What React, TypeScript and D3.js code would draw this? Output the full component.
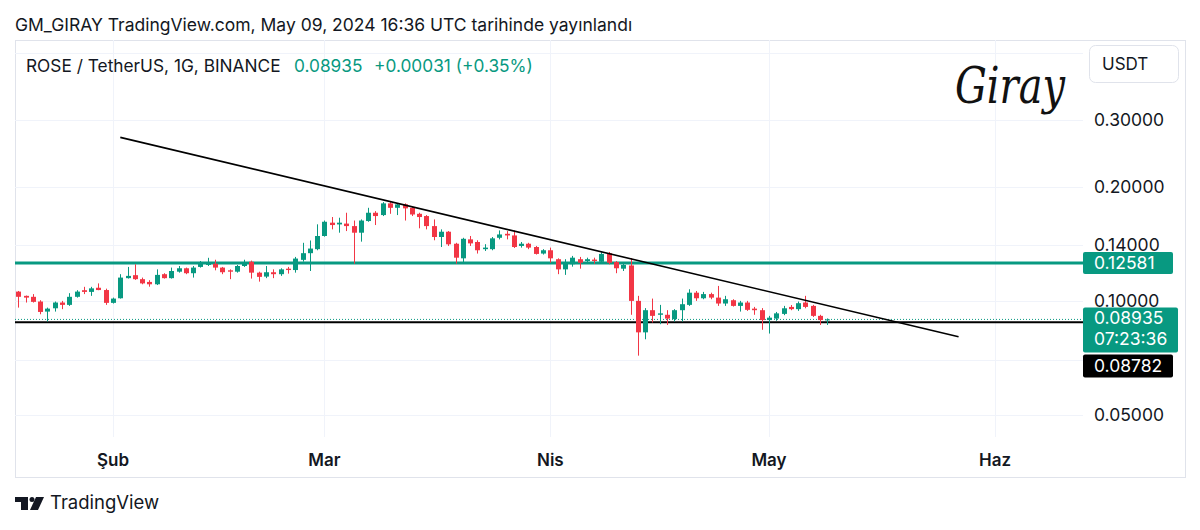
import React from "react";
import * as d3 from "d3";

// ---- data (daily candles, ROSE/USDT) ----
const startDate = "2024-01-19";
const endDate = "2024-05-09";

const opens = [
  0.1058, 0.1031, 0.1025, 0.0996, 0.0937, 0.0956, 0.0990, 0.0976, 0.1025, 0.1067, 0.1056, 0.1083, 0.1068,
  0.0988, 0.1016, 0.1148, 0.1169, 0.1141, 0.1122, 0.1106, 0.1176, 0.1148, 0.1194, 0.1219, 0.1183, 0.1229, 0.1244, 0.1253, 0.1224,
  0.1204, 0.1194, 0.1236, 0.1268, 0.1187, 0.1159, 0.1190, 0.1176, 0.1216, 0.1206, 0.1283, 0.1336, 0.1369,
  0.1483, 0.1608, 0.1591, 0.1599, 0.1575, 0.1513, 0.1624, 0.1708, 0.1684, 0.1808, 0.1760, 0.1797, 0.1760, 0.1697, 0.1674,
  0.1575, 0.1474, 0.1522, 0.1415, 0.1295, 0.1453, 0.1430, 0.1369, 0.1369, 0.1467, 0.1503, 0.1488, 0.1396, 0.1415, 0.1387, 0.1333,
  0.1360, 0.1288, 0.1211, 0.1249, 0.1288, 0.1274, 0.1285, 0.1268, 0.1336, 0.1266, 0.1216, 0.1240, 0.1000, 0.0826, 0.0945,
  0.0919, 0.0919, 0.0895, 0.0945, 0.0976, 0.1051, 0.1016, 0.1042, 0.1020, 0.0984, 0.1004, 0.0970, 0.0990, 0.0954, 0.0945,
  0.0890, 0.0898, 0.0924, 0.0964, 0.0951, 0.0990, 0.0970, 0.0913, 0.08904,
];
const highs = [
  0.1062, 0.1033, 0.1042, 0.1004, 0.0960, 0.0996, 0.1000, 0.1048, 0.1067, 0.1089, 0.1089, 0.1112, 0.1077,
  0.1020, 0.1176, 0.1229, 0.1249, 0.1152, 0.1134, 0.1211, 0.1183, 0.1224, 0.1236, 0.1224, 0.1236, 0.1274, 0.1299, 0.1284, 0.1229,
  0.1211, 0.1244, 0.1284, 0.1277, 0.1194, 0.1236, 0.1211, 0.1219, 0.1229, 0.1306, 0.1423, 0.1443, 0.1592,
  0.1629, 0.1664, 0.1657, 0.1708, 0.1629, 0.1640, 0.1760, 0.1725, 0.1822, 0.1822, 0.1808, 0.1808, 0.1771, 0.1708, 0.1684,
  0.1640, 0.1544, 0.1528, 0.1423, 0.1467, 0.1483, 0.1445, 0.1411, 0.1474, 0.1534, 0.1528, 0.1534, 0.1430, 0.1423, 0.1396, 0.1369,
  0.1382, 0.1295, 0.1288, 0.1314, 0.1306, 0.1300, 0.1300, 0.1344, 0.1346, 0.1274, 0.1253, 0.1297, 0.1031, 0.0957, 0.1014,
  0.0976, 0.0945, 0.0951, 0.1014, 0.1073, 0.1062, 0.1056, 0.1051, 0.1095, 0.1031, 0.1010, 0.1000, 0.1000, 0.0964, 0.0957,
  0.0913, 0.0935, 0.0970, 0.0975, 0.0996, 0.1031, 0.0976, 0.0919, 0.0899,
];
const lows = [
  0.0960, 0.0990, 0.0990, 0.0922, 0.0882, 0.0937, 0.0951, 0.0970, 0.1020, 0.1042, 0.1031, 0.1067, 0.0976,
  0.0984, 0.1014, 0.1145, 0.1136, 0.1106, 0.1090, 0.1101, 0.1145, 0.1145, 0.1187, 0.1176, 0.1152, 0.1224, 0.1236, 0.1204, 0.1176,
  0.1141, 0.1187, 0.1229, 0.1145, 0.1124, 0.1148, 0.1148, 0.1164, 0.1180, 0.1187, 0.1269, 0.1199, 0.1360,
  0.1477, 0.1544, 0.1513, 0.1528, 0.1253, 0.1433, 0.1617, 0.1585, 0.1674, 0.1697, 0.1684, 0.1629, 0.1674, 0.1554, 0.1544,
  0.1445, 0.1387, 0.1396, 0.1253, 0.1253, 0.1396, 0.1333, 0.1354, 0.1360, 0.1453, 0.1453, 0.1379, 0.1382, 0.1369, 0.1325, 0.1325,
  0.1261, 0.1176, 0.1171, 0.1231, 0.1216, 0.1253, 0.1253, 0.1261, 0.1249, 0.1183, 0.1199, 0.0919, 0.0717, 0.0792, 0.0877,
  0.0868, 0.0864, 0.0882, 0.0882, 0.0970, 0.1000, 0.1010, 0.1010, 0.0970, 0.0970, 0.0966, 0.0937, 0.0941, 0.0919, 0.0839,
  0.0820, 0.0886, 0.0917, 0.0945, 0.0941, 0.0956, 0.0907, 0.0864, 0.0864,
];
const closes = [
  0.1025, 0.1020, 0.0994, 0.0935, 0.0954, 0.0990, 0.0976, 0.1025, 0.1058, 0.1056, 0.1079, 0.1068, 0.0988,
  0.1014, 0.1152, 0.1164, 0.1141, 0.1112, 0.1106, 0.1171, 0.1148, 0.1199, 0.1219, 0.1183, 0.1224, 0.1253, 0.1253, 0.1224, 0.1190,
  0.1194, 0.1236, 0.1266, 0.1187, 0.1157, 0.1190, 0.1176, 0.1211, 0.1206, 0.1293, 0.1336, 0.1374, 0.1483,
  0.1617, 0.1585, 0.1608, 0.1575, 0.1513, 0.1629, 0.1708, 0.1674, 0.1808, 0.1760, 0.1797, 0.1754, 0.1690, 0.1664, 0.1575,
  0.1474, 0.1522, 0.1410, 0.1300, 0.1458, 0.1418, 0.1360, 0.1382, 0.1462, 0.1497, 0.1488, 0.1387, 0.1415, 0.1382, 0.1330, 0.1360,
  0.1295, 0.1211, 0.1266, 0.1300, 0.1261, 0.1288, 0.1274, 0.1330, 0.1261, 0.1219, 0.1244, 0.1000, 0.0826, 0.0945, 0.0913,
  0.0927, 0.0898, 0.0945, 0.0980, 0.1051, 0.1016, 0.1042, 0.1020, 0.0984, 0.1010, 0.0970, 0.0990, 0.0947, 0.0945, 0.0890,
  0.0903, 0.0927, 0.0956, 0.0951, 0.0986, 0.0964, 0.0913, 0.0890, 0.08935,
];

const priceLabels = [0.3, 0.2, 0.14, 0.1, 0.05];
const priceGrid = [0.45, 0.3, 0.2, 0.14, 0.1, 0.07, 0.05];
const monthTicks = ["2024-02-01", "2024-03-01", "2024-04-01", "2024-05-01", "2024-06-01"];
const monthLabels = ["Şub", "Mar", "Nis", "May", "Haz"];

const resistanceLevel = 0.12581;
const supportLevel = 0.08782;
const lastPrice = 0.08935;
const countdown = "07:23:36";
const trendDates = ["2024-02-02", "2024-05-27"];
const trendPrices = [0.27, 0.0804];

const UP = "#089981";
const DOWN = "#F23645";
const TEXT = "#131722";
const FONT = "Inter, Roboto, sans-serif";

const parse = d3.timeParse("%Y-%m-%d");

export default function App() {
  const paneL = 15, paneR = 1083, paneT = 40, paneB = 437;
  const x = d3.scaleTime().domain([parse("2024-02-01")!, parse("2024-06-01")!]).range([113, 995]);
  const y = d3.scaleLog().domain([0.05, 0.3]).range([415, 120]);
  const dates = d3.timeDay.range(parse(startDate)!, d3.timeDay.offset(parse(endDate)!, 1));
  const bw = 5;
  const fmt = (v: number) => v.toFixed(5);

  const trendLine = d3.line<[Date, number]>().x((d) => x(d[0])).y((d) => y(d[1]));
  const trendPts: [Date, number][] = trendDates.map((d, i) => [parse(d)!, trendPrices[i]]);

  return (
    <svg width={1200} height={530} style={{ position: "absolute", left: 0, top: 0, display: "block", background: "#fff" }}>
      <rect width={1200} height={530} fill="#fff" />
      <defs>
        <clipPath id="pane">
          <rect x={paneL} y={paneT} width={paneR - paneL} height={paneB - paneT} />
        </clipPath>
      </defs>
      {/* title */}
      <text x={15} y={31} fontFamily={FONT} fontSize={17.5} fill={TEXT}>
        GM_GIRAY TradingView.com, May 09, 2024 16:36 UTC tarihinde yayınlandı
      </text>
      {/* frame */}
      <rect x={15.5} y={40.5} width={1170} height={437} fill="none" stroke="#e0e3eb" />
      {/* grid */}
      <g stroke="#f0f3fa" strokeWidth={1}>
        {priceGrid.map((p) => (
          <line key={p} x1={paneL} x2={paneR} y1={Math.round(y(p)) + 0.5} y2={Math.round(y(p)) + 0.5} />
        ))}
        {monthTicks.map((m) => (
          <line key={m} x1={Math.round(x(parse(m)!)) + 0.5} x2={Math.round(x(parse(m)!)) + 0.5} y1={paneT} y2={paneB} />
        ))}
      </g>
      {/* legend */}
      <text x={26} y={72} fontFamily={FONT} fontSize={17.3} fill={TEXT}>
        ROSE / TetherUS, 1G, BINANCE
        <tspan x={294} fill={UP}>{fmt(lastPrice)}</tspan>
        <tspan x={374} fill={UP}>+0.00031 (+0.35%)</tspan>
      </text>
      {/* signature */}
      <text x={955} y={103} fontFamily="'DejaVu Serif', serif" fontStyle="italic" fontSize={50} fill="#111"
        textLength={110} lengthAdjust="spacingAndGlyphs" fontWeight={300}>
        Giray
      </text>
      <g clipPath="url(#pane)">
        {/* horizontal levels */}
        <line x1={paneL} x2={paneR} y1={y(resistanceLevel)} y2={y(resistanceLevel)} stroke={UP} strokeWidth={3} />
        <line x1={paneL} x2={paneR} y1={y(lastPrice)} y2={y(lastPrice)} stroke={UP} strokeWidth={1} strokeDasharray="1 2" />
        <line x1={paneL} x2={paneR} y1={y(supportLevel)} y2={y(supportLevel)} stroke="#000" strokeWidth={2} />
        {/* candles */}
        {dates.map((d, i) => {
          const o = opens[i], h = highs[i], l = lows[i], c = closes[i];
          const col = c >= o ? UP : DOWN;
          const cx = Math.round(x(d));
          const top = y(Math.max(o, c));
          const bot = y(Math.min(o, c));
          return (
            <g key={i}>
              <line x1={cx + 0.5} x2={cx + 0.5} y1={y(h)} y2={y(l)} stroke={col} strokeWidth={1} />
              <rect x={cx + 0.5 - bw / 2} y={top} width={bw} height={Math.max(1, bot - top)} fill={col} />
            </g>
          );
        })}
        {/* trend line */}
        <path d={trendLine(trendPts)!} stroke="#000" strokeWidth={1.6} fill="none" />
      </g>
      {/* price axis */}
      <g fontFamily={FONT} fontSize={17.5} fill={TEXT}>
        {priceLabels.map((p) => (
          <text key={p} x={1094} y={y(p) + 6}>{fmt(p)}</text>
        ))}
      </g>
      {/* USDT button */}
      <rect x={1089.5} y={45.5} width={89} height={37} rx={6} fill="#fff" stroke="#e0e3eb" />
      <text x={1102} y={70} fontFamily={FONT} fontSize={17} fill={TEXT}>USDT</text>
      {/* level labels */}
      <g fontFamily={FONT} fontSize={17.5} fill="#fff">
        <rect x={1083} y={y(resistanceLevel) - 11} width={90} height={22} rx={2} fill={UP} />
        <text x={1094} y={y(resistanceLevel) + 6}>{fmt(resistanceLevel)}</text>
        <rect x={1083} y={y(lastPrice) - 12} width={95} height={45} rx={2} fill={UP} />
        <text x={1094} y={y(lastPrice) + 5}>{fmt(lastPrice)}</text>
        <text x={1094} y={y(lastPrice) + 26}>{countdown}</text>
        <rect x={1083} y={y(lastPrice) + 35} width={90} height={23} rx={2} fill="#000" />
        <text x={1094} y={y(lastPrice) + 53}>{fmt(supportLevel)}</text>
      </g>
      {/* time axis */}
      <g fontFamily={FONT} fontSize={17} fontWeight={600} fill={TEXT} textAnchor="middle">
        {monthTicks.map((m, i) => (
          <text key={m} x={x(parse(m)!)} y={466}>{monthLabels[i]}</text>
        ))}
      </g>
      {/* TradingView logo */}
      <g fill={TEXT}>
        <path d="M15 497 H28 V510 H21 V502 H15 Z" />
        <circle cx={32} cy={499.5} r={2.5} />
        <path d="M36 497 H44 L38 510 H30 Z" />
      </g>
      <text x={50} y={509} fontFamily={FONT} fontSize={18.5} fill={TEXT} fontWeight={400}>TradingView</text>
    </svg>
  );
}
